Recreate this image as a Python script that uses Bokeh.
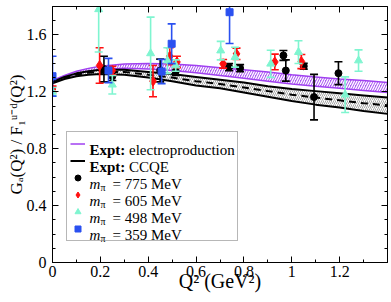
import math
from bokeh.plotting import figure
from bokeh.models import (Range1d, FixedTicker, LinearAxis, Label, Legend,
                          LegendItem, CustomJSTickFormatter)
from bokeh.embed import file_html
from bokeh.resources import INLINE
from bokeh.core.properties import value

FONT = "Liberation Serif"

# ---------------- data ----------------
q2_band = [0.0, 0.05, 0.1, 0.15, 0.2, 0.3, 0.4, 0.5, 0.6, 0.7, 0.8, 0.9, 1.0, 1.1, 1.2, 1.3, 1.4]
elec_lo = [1.265, 1.300, 1.325, 1.345, 1.355, 1.365, 1.360, 1.350, 1.335, 1.315, 1.295, 1.275, 1.255, 1.240, 1.225, 1.210, 1.195]
elec_hi = [1.280, 1.315, 1.345, 1.365, 1.380, 1.395, 1.400, 1.395, 1.385, 1.370, 1.355, 1.340, 1.320, 1.305, 1.290, 1.280, 1.265]
ccqe_hi = [1.270, 1.305, 1.330, 1.345, 1.355, 1.355, 1.340, 1.325, 1.305, 1.285, 1.265, 1.240, 1.220, 1.205, 1.190, 1.175, 1.160]
ccqe_mid = [1.265, 1.300, 1.320, 1.335, 1.340, 1.340, 1.320, 1.300, 1.275, 1.255, 1.230, 1.205, 1.180, 1.160, 1.140, 1.120, 1.105]
ccqe_lo = [1.260, 1.290, 1.310, 1.320, 1.325, 1.320, 1.300, 1.275, 1.245, 1.225, 1.195, 1.165, 1.135, 1.110, 1.090, 1.065, 1.045]

m775_q2 = [0.215, 0.25, 0.45, 0.515, 0.738, 0.784, 0.965, 0.975, 1.05, 1.093, 1.195]
m775_g = [1.36, 1.31, 1.35, 1.345, 1.373, 1.366, 1.456, 1.35, 1.38, 1.163, 1.331]
m775_e = [0.09, 0.03, 0.08, 0.03, 0.025, 0.025, 0.035, 0.075, 0.02, 0.16, 0.08]

m605_q2 = [0.0, 0.197, 0.25, 0.42, 0.49, 0.52, 0.713, 0.769, 0.929, 1.04]
m605_g = [1.22, 1.385, 1.35, 1.275, 1.45, 1.41, 1.397, 1.467, 1.41, 1.413]
m605_e = [0.02, 0.125, 0.03, 0.11, 0.06, 0.04, 0.03, 0.04, 0.055, 0.05]

m498_q2 = [0.0, 0.193, 0.25, 0.41, 0.48, 0.515, 0.703, 0.763, 0.912, 1.028, 1.223, 1.279]
m498_g = [1.20, 1.78, 1.25, 1.47, 1.42, 1.385, 1.49, 1.444, 1.397, 1.479, 1.18, 1.42]
m498_e = [0.03, 0.30, 0.065, 0.255, 0.09, 0.04, 0.065, 0.07, 0.095, 0.08, 0.125, 0.075]

m359_q2 = [0.0, 0.234, 0.456, 0.498, 0.74]
m359_g = [1.31, 1.35, 1.343, 1.538, 1.76]
m359_e = [0.14, 0.085, 0.085, 0.14, 0.22]

x_ticks = [0, 0.2, 0.4, 0.6, 0.8, 1, 1.2]
x_tick_labels = ["0", "0.2", "0.4", "0.6", "0.8", "1", "1.2"]
y_ticks = [0, 0.4, 0.8, 1.2, 1.6]
y_tick_labels = ["0", "0.4", "0.8", "1.2", "1.6"]
x_minor = [0.1, 0.3, 0.5, 0.7, 0.9, 1.1, 1.3]
y_minor = [0.1, 0.2, 0.3, 0.5, 0.6, 0.7, 0.9, 1.0, 1.1, 1.3, 1.4, 1.5, 1.7]

legend_names = ["775", "605", "498", "359"]

PURPLE = "#a040f0"
RED = "#ff1010"
AQUA = "#7ff5d0"
BLUE = "#2a50f0"

# ---------------- figure ----------------
FL, FT, FW, FH = 52, 6, 335, 256   # frame geometry in canvas pixels
XMAX, YMAX = 1.4, 1.8
p = figure(frame_width=FW, frame_height=FH,
           min_border_left=FL, min_border_right=4, min_border_top=FT, min_border_bottom=40,
           x_range=Range1d(0, XMAX), y_range=Range1d(0, YMAX),
           output_backend="svg", toolbar_location=None)
p.xgrid.visible = False
p.ygrid.visible = False
p.outline_line_color = "black"
p.outline_line_width = 1
p.background_fill_color = "white"
p.border_fill_color = "white"

bottom_ax = p.below[0]
left_ax = p.left[0]
blank = CustomJSTickFormatter(code="return ''")
bottom_ax.ticker = FixedTicker(ticks=x_ticks, minor_ticks=x_minor)
left_ax.ticker = FixedTicker(ticks=y_ticks, minor_ticks=y_minor)
bottom_ax.major_label_overrides = dict(zip(x_ticks, x_tick_labels))
left_ax.major_label_overrides = dict(zip(y_ticks, y_tick_labels))
top_ax = LinearAxis(ticker=FixedTicker(ticks=x_ticks, minor_ticks=x_minor), formatter=blank)
right_ax = LinearAxis(ticker=FixedTicker(ticks=y_ticks, minor_ticks=y_minor), formatter=blank)
p.add_layout(top_ax, "above")
p.add_layout(right_ax, "right")
for ax in [bottom_ax, left_ax, top_ax, right_ax]:
    ax.major_tick_in = 6
    ax.major_tick_out = 0
    ax.minor_tick_in = 3
    ax.minor_tick_out = 0
    ax.axis_line_color = "black"
    ax.major_tick_line_color = "black"
    ax.minor_tick_line_color = "black"
    ax.major_label_text_font = FONT
    ax.major_label_text_font_size = "16px"
    ax.major_label_text_color = "black"
for ax in [top_ax, right_ax]:
    ax.major_label_standoff = 0
    ax.major_label_text_font_size = "1px"
bottom_ax.major_label_standoff = 3
left_ax.major_label_standoff = 6

bottom_ax.axis_label = "Q\u00b2 (GeV\u00b2)"
left_ax.axis_label = "G\u2090(Q\u00b2) / F\u2081\u1d58\u207b\u1d48(Q\u00b2)"
for ax in [bottom_ax, left_ax]:
    ax.axis_label_text_font = FONT
    ax.axis_label_text_font_style = "normal"
    ax.axis_label_text_color = "black"
bottom_ax.axis_label_text_font_size = "20px"
left_ax.axis_label_text_font_size = "17px"
bottom_ax.axis_label_standoff = -10
left_ax.axis_label_standoff = -2

# ---------------- bands ----------------
p.varea(x=q2_band, y1=elec_lo, y2=elec_hi, fill_color=PURPLE, fill_alpha=0.85,
        hatch_pattern="/", hatch_color="white", hatch_scale=5, hatch_weight=1.3)
elec_line = p.line(q2_band, elec_hi, line_color=PURPLE, line_width=1.5)
p.line(q2_band, elec_lo, line_color=PURPLE, line_width=1.5)

p.varea(x=q2_band, y1=ccqe_lo, y2=ccqe_hi, fill_color=None,
        hatch_pattern="/", hatch_color="#a8a8a8", hatch_scale=4, hatch_weight=1)
ccqe_line = p.line(q2_band, ccqe_hi, line_color="black", line_width=2)
p.line(q2_band, ccqe_lo, line_color="black", line_width=2)
p.line(q2_band, ccqe_mid, line_color="black", line_width=2, line_dash="7 5")

# ---------------- lattice points ----------------
def series(xs, ys, es, color, marker, size):
    up = [y + e for y, e in zip(ys, es)]
    lo = [y - e for y, e in zip(ys, es)]
    p.segment(x0=xs, y0=lo, x1=xs, y1=up, line_color=color, line_width=1.6)
    p.scatter(xs, up, marker="dash", size=8, line_color=color, line_width=1.6)
    p.scatter(xs, lo, marker="dash", size=8, line_color=color, line_width=1.6)
    return p.scatter(xs, ys, marker=marker, size=size,
                     fill_color=color, line_color=color)

r775 = series(m775_q2, m775_g, m775_e, "black", "circle", 7)
r605 = series(m605_q2, m605_g, m605_e, RED, "diamond", 10)
r498 = series(m498_q2, m498_g, m498_e, AQUA, "triangle", 8)
r359 = series(m359_q2, m359_g, m359_e, BLUE, "square", 7)

# ---------------- legend (box + glyph samples) ----------------
LEG_L, LEG_T, PAD, ROW = 66, 133, 3, 17
items = [LegendItem(label=value(" "), renderers=[r]) for r in
         [elec_line, ccqe_line, r775, r605, r498, r359]]
leg_h = 2 * PAD + 6 * ROW
legend = Legend(items=items, location=(LEG_L - FL, FT + FH - (LEG_T + leg_h)),
                orientation="vertical",
                border_line_color="#707070", border_line_width=1,
                background_fill_alpha=0,
                padding=PAD, spacing=0, margin=0, glyph_width=15, glyph_height=ROW,
                label_height=ROW, label_width=144, label_standoff=5,
                label_text_font=FONT, label_text_font_size="15px")
p.add_layout(legend, "center")

# ---------------- legend texts ----------------
def to_data(px, py):
    return (px - FL) * XMAX / FW, (FT + FH - py) * YMAX / FH

def txt(s, px, py, size, style="normal"):
    x, y = to_data(px, py)
    p.add_layout(Label(x=x, y=y, text=s, level="overlay",
                       text_font=FONT, text_font_size=f"{size}px",
                       text_font_style=style, text_color="black",
                       text_align="left", text_baseline="alphabetic"))

rows = [LEG_T + PAD + ROW / 2 + ROW * i for i in range(6)]
tx = LEG_L + PAD + 15 + 5
txt("Expt:", tx, rows[0] + 4.5, 15, "bold")
txt("electroproduction", tx + 39.5, rows[0] + 4.5, 15)
txt("Expt:", tx, rows[1] + 4.5, 15, "bold")
txt("CCQE", tx + 39.5, rows[1] + 4.5, 15)
for r, mev in zip(rows[2:], legend_names):
    txt("m", tx, r + 4.5, 15, "italic")
    txt("\u03c0", tx + 11, r + 8, 10)
    txt("= " + mev + " MeV", tx + 23, r + 4.5, 15)

open("out.html", "w").write(file_html(p, INLINE))
